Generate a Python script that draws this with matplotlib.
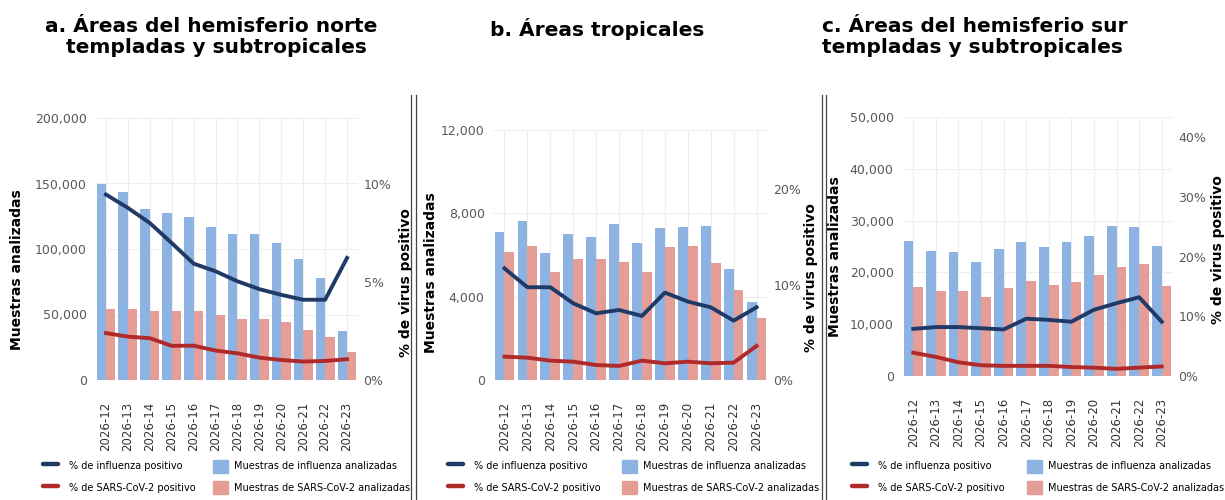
import numpy as np
import matplotlib as mpl
mpl.use('agg')
import matplotlib.pyplot as plt
from matplotlib.lines import Line2D
from matplotlib.patches import Patch
from matplotlib.ticker import FuncFormatter

weeks = ["2026-12", "2026-13", "2026-14", "2026-15", "2026-16", "2026-17",
         "2026-18", "2026-19", "2026-20", "2026-21", "2026-22", "2026-23"]

# a. hemisferio norte
north_flu_n = [149600, 143200, 130400, 127400, 124500, 117100, 111700, 111700, 104300, 92600, 78000, 37100]
north_cov_n = [54500, 54500, 52400, 52400, 52400, 49400, 46500, 46500, 44200, 38100, 32700, 21700]
north_flu_pct = [9.45, 8.77, 8.0, 6.98, 5.93, 5.54, 5.03, 4.63, 4.34, 4.09, 4.09, 6.22]
north_cov_pct = [2.39, 2.21, 2.13, 1.74, 1.75, 1.5, 1.36, 1.14, 1.02, 0.94, 0.97, 1.06]

# b. tropicales
trop_flu_n = [7120, 7630, 6080, 6990, 6850, 7470, 6560, 7280, 7340, 7410, 5310, 3740]
trop_cov_n = [6160, 6420, 5200, 5810, 5810, 5650, 5200, 6400, 6450, 5600, 4320, 2960]
trop_flu_pct = [11.7, 9.72, 9.72, 8.04, 6.99, 7.34, 6.71, 9.16, 8.22, 7.62, 6.22, 7.62]
trop_cov_pct = [2.45, 2.34, 2.03, 1.92, 1.57, 1.47, 2.03, 1.75, 1.92, 1.75, 1.82, 3.57]

# c. hemisferio sur
south_flu_n = [26150, 24100, 23900, 22000, 24550, 25960, 24870, 25960, 27120, 29040, 28850, 25060]
south_cov_n = [17180, 16350, 16350, 15260, 17050, 18330, 17630, 18140, 19420, 21030, 21670, 17370]
south_flu_pct = [7.9, 8.2, 8.2, 8.0, 7.8, 9.6, 9.4, 9.1, 11.1, 12.2, 13.2, 9.1]
south_cov_pct = [3.9, 3.2, 2.3, 1.8, 1.7, 1.7, 1.7, 1.5, 1.4, 1.2, 1.4, 1.6]

titles = ["a. Áreas del hemisferio norte\n   templadas y subtropicales",
          "b. Áreas tropicales",
          "c. Áreas del hemisferio sur\ntempladas y subtropicales"]

BLUE_BAR = "#8db3e2"
RED_BAR = "#e59d98"
BLUE_LINE = "#1f3a66"
RED_LINE = "#b02a2a"
TICK_GREY = "#595959"

plt.rcParams['font.family'] = ['DejaVu Sans']

W, H = 1225, 500
fig = plt.figure(figsize=(W / 100, H / 100), dpi=100)


def panel(rect, flu_n, cov_n, flu_pct, cov_pct, ymax, yticks, ymax_r, rticks,
          ylab, rlab, leg_line_x, leg_patch_x):
    ax = fig.add_axes(rect)
    x = np.arange(len(weeks))
    w = 0.43
    ax.bar(x - w / 2, flu_n, w, color=BLUE_BAR, zorder=2)
    ax.bar(x + w / 2, cov_n, w, color=RED_BAR, zorder=2)
    ax.set_xlim(-0.5, len(weeks) - 0.5)
    ax.set_ylim(0, ymax)
    ax.set_yticks(yticks)
    ax.yaxis.set_major_formatter(FuncFormatter(lambda v, p: f"{int(v):,}"))
    ax.set_xticks(x)
    ax.set_xticklabels(weeks, rotation=90, fontsize=8.5, color="#333333")
    ax.tick_params(axis='x', length=0, pad=16)
    ax.tick_params(axis='y', length=0, pad=6, labelsize=9, labelcolor=TICK_GREY)
    for s in ax.spines.values():
        s.set_visible(False)
    ax.grid(True, color="#eeeeee", lw=0.8, zorder=0)
    ax.set_ylabel("Muestras analizadas", fontsize=10, fontweight='bold')
    ax.yaxis.set_label_coords(*ylab)

    ax2 = ax.twinx()
    ax2.plot(x, flu_pct, color=BLUE_LINE, lw=2.8, zorder=3)
    ax2.plot(x, cov_pct, color=RED_LINE, lw=2.8, zorder=3)
    ax2.set_ylim(0, ymax_r)
    ax2.set_yticks(rticks)
    ax2.yaxis.set_major_formatter(FuncFormatter(lambda v, p: f"{int(v)}%"))
    ax2.tick_params(length=0, labelsize=9, labelcolor=TICK_GREY, pad=4)
    for s in ax2.spines.values():
        s.set_visible(False)
    ax2.set_ylabel("% de virus positivo", fontsize=10, fontweight='bold')
    ax2.yaxis.set_label_coords(*rlab)

    common = dict(loc='upper left', frameon=False, fontsize=7, borderpad=0,
                  borderaxespad=0, handlelength=1.55, handleheight=1.75,
                  labelspacing=0.8, handletextpad=1.1,
                  bbox_transform=fig.transFigure)
    line_h = [Line2D([], [], color=BLUE_LINE, lw=3.2, solid_capstyle='round'),
              Line2D([], [], color=RED_LINE, lw=3.2, solid_capstyle='round')]
    fig.legend(line_h, ["% de influenza positivo", "% de SARS-CoV-2 positivo"],
               bbox_to_anchor=(leg_line_x / W, 0.081), **common)
    patch_h = [Patch(color=BLUE_BAR), Patch(color=RED_BAR)]
    common['handletextpad'] = 0.6
    fig.legend(patch_h, ["Muestras de influenza analizadas", "Muestras de SARS-CoV-2 analizadas"],
               bbox_to_anchor=(leg_patch_x / W, 0.081), **common)
    return ax


panel([95 / W, 0.24, 263 / W, 0.524], north_flu_n, north_cov_n, north_flu_pct, north_cov_pct,
      200000, [0, 50000, 100000, 150000, 200000], 13.35, [0, 5, 10],
      (-0.27, 0.42), (1.155, 0.37), 43, 213)
panel([493 / W, 0.24, 275 / W, 0.50], trop_flu_n, trop_cov_n, trop_flu_pct, trop_cov_pct,
      12000, [0, 4000, 8000, 12000], 26.2, [0, 10, 20],
      (-0.2, 0.43), (1.13, 0.41), 448, 622)
panel([902 / W, 0.248, 271 / W, 0.518], south_flu_n, south_cov_n, south_flu_pct, south_cov_pct,
      50000, [0, 10000, 20000, 30000, 40000, 50000], 43.4, [0, 10, 20, 30, 40],
      (-0.222, 0.46), (1.14, 0.49), 852, 1027)

fig.text(45 / W, 0.965, titles[0], fontsize=14.5, fontweight='bold', va='top', ha='left',
         linespacing=1.1)
fig.text(490 / W, 0.965, titles[1], fontsize=14.5, fontweight='bold', va='top', ha='left')
fig.text(822 / W, 0.965, titles[2], fontsize=14.5, fontweight='bold', va='top', ha='left',
         linespacing=1.1)

# double separators between panels
for xs in (411, 416, 822, 826):
    fig.add_artist(Line2D([xs / W, xs / W], [0, 0.81], color="#444444", lw=0.9))

fig.savefig('out.png', dpi=100)
